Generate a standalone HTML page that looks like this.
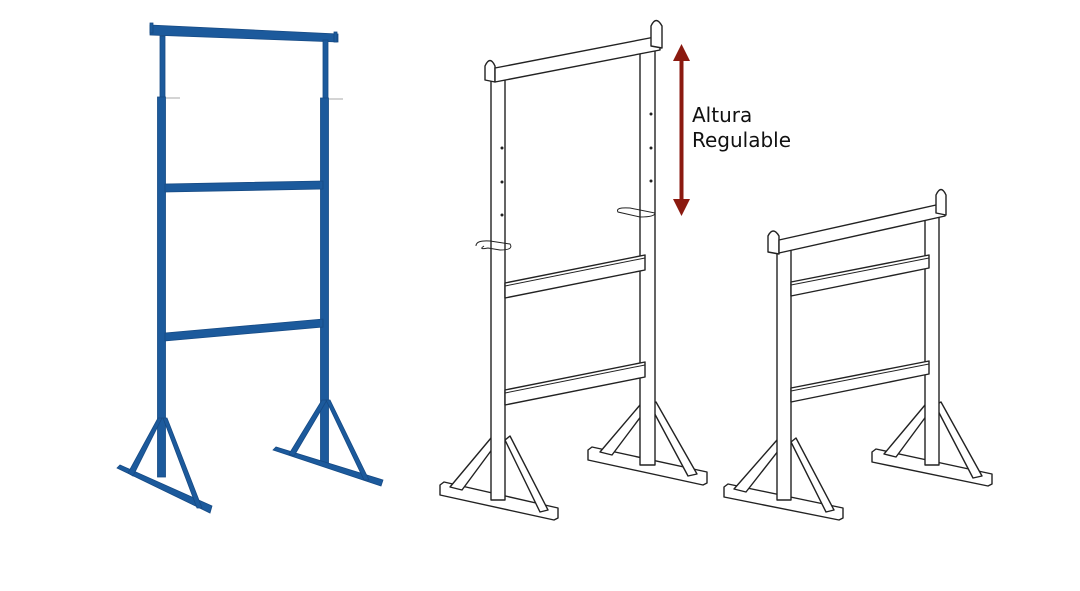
<!DOCTYPE html>
<html><head><meta charset="utf-8"><style>
html,body{margin:0;padding:0;background:#fff;}
svg{display:block}
text{font-family:"DejaVu Sans","Liberation Sans",sans-serif;}
</style></head><body>
<svg width="1080" height="591" viewBox="0 0 1080 591" xmlns="http://www.w3.org/2000/svg">
<rect width="1080" height="591" fill="#fff"/>
<!-- Blue stand -->
<g fill="#1c5a9c" stroke="#164a84" stroke-width="0.8">
  <polygon points="150,25 338,34 338,42 150,35"/>
  <rect x="150" y="23" width="3" height="10"/>
  <rect x="334" y="32" width="3" height="10"/>
  <rect x="160" y="36" width="5" height="64"/>
  <rect x="157.5" y="97" width="8" height="380"/>
  <rect x="323" y="40" width="5" height="62"/>
  <rect x="320.5" y="98" width="8" height="366"/>
  <polygon points="165,184 323,181 323,189 165,192"/>
  <polygon points="165,333 323,319 323,327 165,341"/>
  <polygon points="117,468 120,465 212,506 210,513"/>
  <polygon points="158,418 162,418 133,476 128,473"/>
  <polygon points="163,418 167,418 202,508 197,508"/>
  <polygon points="273,450 276,447 383,480 381,486"/>
  <polygon points="322,400 327,400 294,456 289,454"/>
  <polygon points="326,400 330,400 369,480 364,480"/>
</g>
<g stroke="#aaa" stroke-width="1"><line x1="166" y1="98" x2="180" y2="98"/><line x1="329" y1="99" x2="343" y2="99"/></g>

<!-- Middle line stand -->
<g fill="#fff" stroke="#222" stroke-width="1.4" stroke-linejoin="round">
  <polygon points="588,450 592,447 707,472 707,483 703,485 588,460"/>
  <polygon points="600,452 640,405 645,411 612,455"/>
  <polygon points="650,405 656,402 697,474 688,476"/>
  <polygon points="440,485 444,482 558,508 558,518 554,520 440,495"/>
  <polygon points="450,487 491,438 496,444 462,490"/>
  <polygon points="505,440 510,436 548,510 540,512"/>
  <rect x="640" y="45" width="15" height="420"/>
  <rect x="491" y="80" width="14" height="420"/>
  <polygon points="505,283 645,255 645,270 505,298"/>
  <polygon points="505,390 645,362 645,377 505,405"/>
  <path d="M485,80 L485,66 Q490,55 495,66 L495,82 Z"/>
  <polygon points="495,68 660,36 660,50 495,82"/>
  <path d="M651,46 L651,26 Q656,15 662,26 L662,48 Z"/>
</g>
<g stroke="#222" stroke-width="1" fill="none">
  <line x1="505" y1="286" x2="645" y2="258"/>
  <line x1="505" y1="393" x2="645" y2="365"/>
  <path d="M476,246 Q476,240 490,241 L510,244 Q514,250 500,250 L488,248 Q478,250 484,246"/>
  <path d="M618,212 Q615,207 630,208 L655,213 Q655,217 640,217 Z"/>
</g>
<g fill="#222"><circle cx="502" cy="148" r="1.5"/><circle cx="502" cy="182" r="1.5"/><circle cx="502" cy="215" r="1.5"/><circle cx="651" cy="114" r="1.5"/><circle cx="651" cy="148" r="1.5"/><circle cx="651" cy="181" r="1.5"/></g>

<!-- Small stand -->
<g fill="#fff" stroke="#222" stroke-width="1.4" stroke-linejoin="round">
  <polygon points="872,452 876,449 992,474 992,484 988,486 872,462"/>
  <polygon points="884,454 925,405 930,411 896,457"/>
  <polygon points="935,405 941,402 982,476 973,478"/>
  <polygon points="724,487 728,484 843,508 843,518 839,520 724,497"/>
  <polygon points="734,489 777,440 782,446 746,492"/>
  <polygon points="791,442 796,438 834,510 826,512"/>
  <rect x="925" y="215" width="14" height="250"/>
  <rect x="777" y="250" width="14" height="250"/>
  <polygon points="791,282 929,255 929,268 791,296"/>
  <polygon points="791,388 929,361 929,374 791,402"/>
  <path d="M768,252 L768,236 Q773,226 779,236 L779,254 Z"/>
  <polygon points="779,240 945,203 945,216 779,253"/>
  <path d="M936,213 L936,195 Q941,184 946,195 L946,215 Z"/>
</g>
<g stroke="#222" stroke-width="1" fill="none">
  <line x1="791" y1="285" x2="929" y2="258"/>
  <line x1="791" y1="391" x2="929" y2="364"/>
</g>

<!-- Arrow -->
<g fill="#8b1a10">
  <rect x="679.5" y="58" width="4" height="145"/>
  <polygon points="681.5,44 673,61 690,61"/>
  <polygon points="681.5,216 673,199 690,199"/>
</g>
<text x="692" y="122" font-size="20" fill="#111">Altura</text>
<text x="692" y="147" font-size="20" fill="#111">Regulable</text>
</svg>
</body></html>
